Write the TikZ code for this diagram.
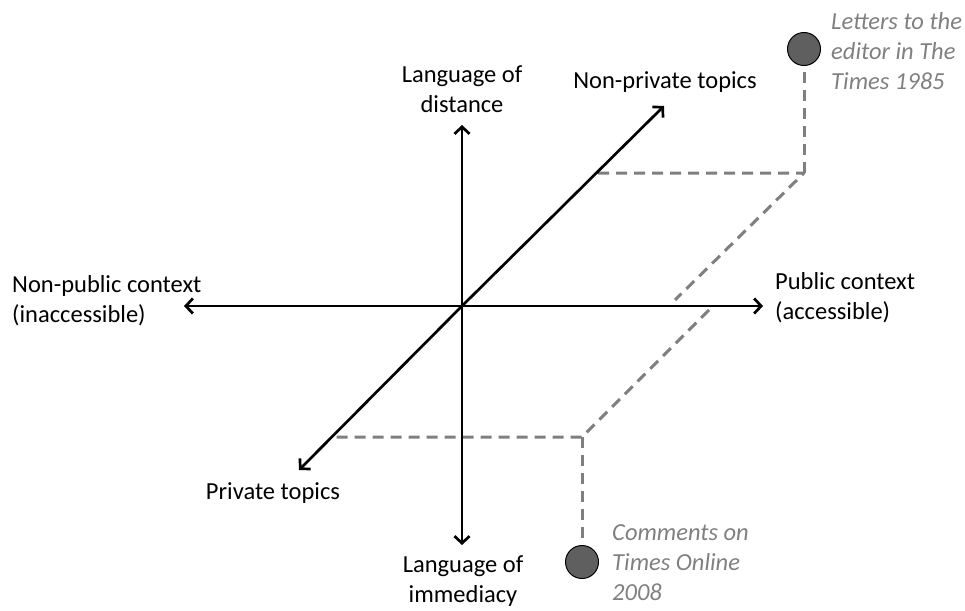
\documentclass[tikz,border=0pt]{standalone}
\usepackage{fontspec}
\setmainfont{Carlito}
\usetikzlibrary{arrows.meta}
\definecolor{dashgray}{HTML}{7F7F7F}
\definecolor{dotgray}{HTML}{5F5F5F}
\definecolor{notegray}{HTML}{808080}
\tikzset{
  axis/.style={draw=black, line width=2.7pt, -{Straight Barb[length=7pt,width=15pt,line width=2.7pt]}},
  guide/.style={draw=dashgray, line width=3pt, dash pattern=on 11pt off 7pt, line join=round},
  lbl/.style={inner sep=0pt, align=center, font=\fontsize{24.5}{30}\selectfont},
  note/.style={inner sep=0pt, align=left, text=notegray, font=\fontsize{24.5}{30}\selectfont\itshape},
  dot/.style={circle, draw=black, line width=1pt, fill=dotgray, minimum size=33pt, inner sep=0pt},
}
\begin{document}
\begin{tikzpicture}[x=1pt,y=-1pt]
\useasboundingbox (0,0) rectangle (965,610);
% origin and tips
\coordinate (O) at (462,306);
\coordinate (up) at (462,125);
\coordinate (down) at (462,545);
\coordinate (left) at (184,306);
\coordinate (right) at (763,306);
\coordinate (ne) at (664,106);
\coordinate (sw) at (299,470);
% guide corners
\coordinate (a1) at (598,173);
\coordinate (a2) at (804,173);
\coordinate (a3) at (675,300);
\coordinate (b0) at (709,310);
\coordinate (b1) at (582,437);
\coordinate (b2) at (333,437);
% dots
\node[dot] (d1) at (804,49) {};
\node[dot] (d2) at (582,562) {};
% guides
\draw[guide] (a1) -- (a2) -- (a3);
\draw[guide] (a2) -- (d1.south);
\draw[guide] (b0) -- (b1) -- (b2);
\draw[guide] (b1) -- (d2.north);
% axes
\draw[axis] (O) -- (up);
\draw[axis] (O) -- (down);
\draw[axis] (O) -- (left);
\draw[axis] (O) -- (right);
\draw[axis] (O) -- (ne);
\draw[axis] (O) -- (sw);
% labels
\node[lbl] (tdist) at (462,89) {Language of\\distance};
\node[lbl] (tnp) at (665,82) {Non-private topics};
\node[lbl, anchor=west, align=left] (tnpc) at (12,301) {Non-public context\\(inaccessible)};
\node[lbl, anchor=west, align=left] (tpc) at (775,298) {Public context\\(accessible)};
\node[lbl] (tpt) at (273,493) {Private topics};
\node[lbl] (timm) at (463,581) {Language of\\immediacy};
\node[note, anchor=west] (n1) at (831,51) {Letters to the\\editor in The\\Times 1985};
\node[note, anchor=west] (n2) at (612,563) {Comments on\\Times Online\\2008};
\end{tikzpicture}
\end{document}
